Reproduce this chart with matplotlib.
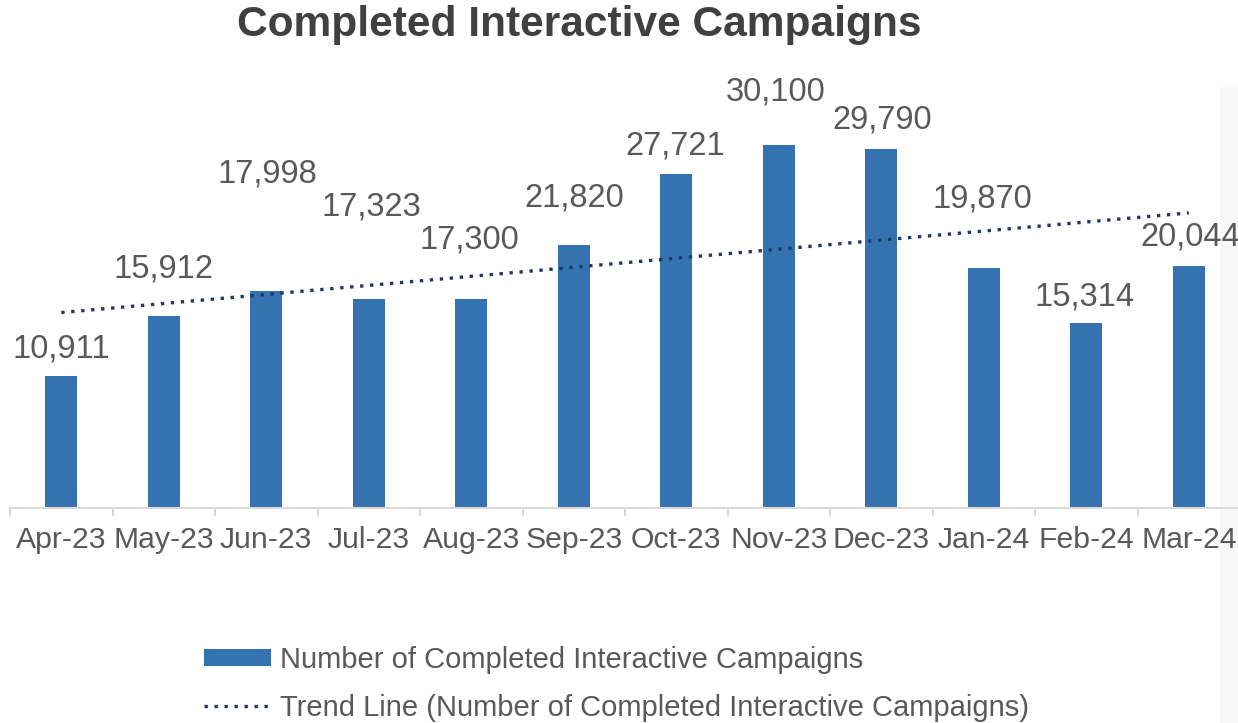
import numpy as np
import matplotlib

matplotlib.use("Agg")
import matplotlib.pyplot as plt
from matplotlib.patches import Rectangle
from matplotlib.lines import Line2D

# data
MONTHS = ["Apr-23", "May-23", "Jun-23", "Jul-23", "Aug-23", "Sep-23",
          "Oct-23", "Nov-23", "Dec-23", "Jan-24", "Feb-24", "Mar-24"]
CAMPAIGNS = [10911, 15912, 17998, 17323, 17300, 21820,
             27721, 30100, 29790, 19870, 15314, 20044]

# label placement (points above bar top, points horizontal shift) - layout only
LABEL_DY = [20, 34, 84, 66, 43, 34, 20, 38, 21, 50, 19, 21]
LABEL_DX = [0, 0, 1, 2, -1, 0, -1, -2, 1, -1, -1, 1]

BAR_COLOR = "#3572B0"
TREND_COLOR = "#1F3864"
TEXT_COLOR = "#595959"
AXIS_COLOR = "#D9D9D9"

plt.rcParams["font.family"] = ["Liberation Sans", "DejaVu Sans"]

fig = plt.figure(figsize=(12.38, 7.23), dpi=100)
fig.patch.set_facecolor("white")

# faint grey panel at the right edge
fig.patches.append(Rectangle((1220 / 1238, 0), 0.05, 0.88, transform=fig.transFigure,
                             facecolor="#F7F7F7", edgecolor="none", zorder=-5))

ax = fig.add_axes([10 / 1238, 215 / 723, 1230 / 1238, 422 / 723])
ax.set_facecolor("none")
ax.set_zorder(2)
x = np.arange(len(MONTHS))
ax.bar(x, CAMPAIGNS, width=0.31, color=BAR_COLOR, zorder=2)

coef = np.polyfit(x, CAMPAIGNS, 1)
trend = np.polyval(coef, x)
ax.plot(x, trend, color=TREND_COLOR, linestyle=(0, (1, 2.0)), linewidth=2.4, zorder=3)

for i, v in enumerate(CAMPAIGNS):
    ax.annotate(f"{v:,}", (x[i], v), xytext=(LABEL_DX[i], LABEL_DY[i]),
                textcoords="offset points", ha="center", va="center",
                fontsize=23.5, color=TEXT_COLOR, annotation_clip=False)

ax.set_xlim(-0.5, len(MONTHS) - 0.5)
ax.set_ylim(0, 35000)
ax.set_yticks([])
for s in ("left", "right", "top"):
    ax.spines[s].set_visible(False)
ax.spines["bottom"].set_color(AXIS_COLOR)
ax.spines["bottom"].set_linewidth(1.5)

ax.set_xticks(np.arange(-0.5, len(MONTHS), 1.0))
ax.set_xticklabels([])
ax.tick_params(axis="x", which="major", length=6, width=1.5, color=AXIS_COLOR)
ax.set_xticks(x, minor=True)
ax.set_xticklabels(MONTHS, minor=True)
ax.tick_params(axis="x", which="minor", length=0, pad=13, labelsize=21.7,
               labelcolor=TEXT_COLOR)

fig.text(579 / 1238, 1 - 25 / 723, "Completed Interactive Campaigns",
         ha="center", va="center", fontsize=30.6, fontweight="bold", color="#404040")

handles = [
    Rectangle((0, 0), 1, 1, facecolor=BAR_COLOR, edgecolor="none"),
    Line2D([0], [0], color=TREND_COLOR, linestyle=(0, (1, 2.0)), linewidth=2.4),
]
labels = ["Number of Completed Interactive Campaigns",
          "Trend Line (Number of Completed Interactive Campaigns)"]
fig.legend(handles, labels, loc="upper left", bbox_to_anchor=(192 / 1238, 1 - 634 / 723),
           frameon=False, fontsize=21, labelcolor=TEXT_COLOR, handlelength=2.3,
           handleheight=0.55, handletextpad=0.3, labelspacing=0.68, borderaxespad=0)

fig.savefig("out.png", dpi=100, facecolor="white")
